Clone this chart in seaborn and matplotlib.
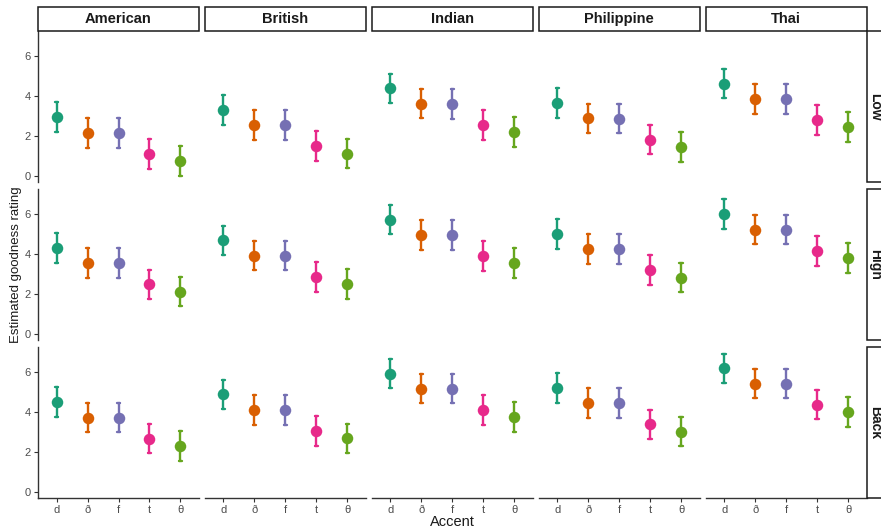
import matplotlib
matplotlib.use("Agg")
import matplotlib.pyplot as plt
from matplotlib.patches import Rectangle
import numpy as np
import pandas as pd
import seaborn as sns

accents = ["American", "British", "Indian", "Philippine", "Thai"]
conditions = ["Low", "High", "Back"]
sounds = ["d", "ð", "f", "t", "θ"]

# Estimated goodness rating (means) per condition, one list per accent (order: d, ð, f, t, θ)
low_means = {
    "American":   [2.95, 2.15, 2.15, 1.10, 0.75],
    "British":    [3.30, 2.55, 2.55, 1.50, 1.12],
    "Indian":     [4.38, 3.62, 3.60, 2.55, 2.20],
    "Philippine": [3.65, 2.88, 2.87, 1.82, 1.45],
    "Thai":       [4.62, 3.85, 3.85, 2.80, 2.45],
}
high_means = {
    "American":   [4.30, 3.55, 3.55, 2.48, 2.12],
    "British":    [4.68, 3.92, 3.92, 2.85, 2.50],
    "Indian":     [5.72, 4.95, 4.95, 3.90, 3.55],
    "Philippine": [5.00, 4.25, 4.25, 3.20, 2.82],
    "Thai":       [6.00, 5.22, 5.22, 4.15, 3.80],
}
back_means = {
    "American":   [4.50, 3.72, 3.72, 2.67, 2.30],
    "British":    [4.88, 4.10, 4.10, 3.05, 2.68],
    "Indian":     [5.92, 5.17, 5.17, 4.10, 3.75],
    "Philippine": [5.20, 4.45, 4.45, 3.38, 3.02],
    "Thai":       [6.18, 5.42, 5.42, 4.37, 4.00],
}
# half-width of the interval for each sound
half_ci = [0.73, 0.73, 0.73, 0.73, 0.73]

means_by_condition = {"Low": low_means, "High": high_means, "Back": back_means}
palette = dict(zip(sounds, sns.color_palette("Dark2", 5)))

# long table: lower / mean / upper rows -> median with 100% interval reproduces the estimate and interval
rows = []
for cond in conditions:
    for acc in accents:
        for s, m, h in zip(sounds, means_by_condition[cond][acc], half_ci):
            for v in (m - h, m, m + h):
                rows.append({"Condition": cond, "Accent": acc, "Sound": s, "Rating": v})
df = pd.DataFrame(rows)

sns.set_style("white")
plt.rcParams["font.family"] = ["Liberation Sans", "DejaVu Sans"]

W, H = 881, 531
fig = plt.figure(figsize=(W / 100, H / 100), dpi=100)

col_left0, col_step, col_w = 38, 166.9, 161
row_top0, row_step, row_h = 31, 158, 151
axis_col = "#333333"
tick_col = "#4D4D4D"

for j, cond in enumerate(conditions):
    for i, acc in enumerate(accents):
        left = col_left0 + i * col_step
        top = row_top0 + j * row_step
        ax = fig.add_axes([left / W, 1 - (top + row_h) / H, col_w / W, row_h / H])
        sub = df[(df.Condition == cond) & (df.Accent == acc)]
        sns.pointplot(data=sub, x="Sound", y="Rating", hue="Sound", order=sounds,
                      hue_order=sounds, palette=palette, estimator="median",
                      errorbar=("pi", 100), linestyle="none", markers="o",
                      markersize=8.3, capsize=0.11, err_kws={"linewidth": 1.7},
                      legend=False, ax=ax)
        for ln in ax.lines:
            ln.set_markeredgewidth(0)
        ax.set_xlim(-0.6, 4.6)
        ax.set_ylim(-0.3, 7.25)
        ax.set_xlabel("")
        ax.set_ylabel("")
        for sp in ["top", "right"]:
            ax.spines[sp].set_visible(False)
        ax.spines["left"].set_visible(i == 0)
        ax.spines["bottom"].set_visible(j == len(conditions) - 1)
        for sp in ["left", "bottom"]:
            ax.spines[sp].set_color(axis_col)
            ax.spines[sp].set_linewidth(1.0)
        ax.set_yticks([0, 2, 4, 6])
        ax.tick_params(axis="both", colors=axis_col, labelcolor=tick_col, labelsize=8,
                       length=3, width=0.8, pad=2)
        if i != 0:
            ax.tick_params(axis="y", left=False, labelleft=False)
        if j != len(conditions) - 1:
            ax.tick_params(axis="x", bottom=False, labelbottom=False)
        else:
            ax.tick_params(axis="x", bottom=True, labelbottom=True)
        if i == 0:
            ax.tick_params(axis="y", left=True)

        # top strips
        if j == 0:
            fig.add_artist(Rectangle((left / W, 1 - 31 / H), col_w / W, 24 / H,
                                     transform=fig.transFigure, facecolor="white",
                                     edgecolor="#1a1a1a", linewidth=1.1, clip_on=False))
            fig.text((left + col_w / 2) / W, 1 - 19 / H, acc, ha="center", va="center",
                     fontsize=10.5, fontweight="bold", color="#1a1a1a")
    # right strips
    top = row_top0 + j * row_step
    fig.add_artist(Rectangle((867 / W, 1 - (top + row_h) / H), 24 / W, row_h / H,
                             transform=fig.transFigure, facecolor="white",
                             edgecolor="#1a1a1a", linewidth=1.1, clip_on=False))
    fig.text(875 / W, 1 - (top + row_h / 2) / H, cond, ha="center", va="center",
             rotation=-90, fontsize=10, fontweight="bold", color="#1a1a1a")

fig.text(16 / W, 1 - 265 / H, "Estimated goodness rating", rotation=90,
         ha="center", va="center", fontsize=9.5, color="#1a1a1a")
fig.text(452 / W, 1 - 522 / H, "Accent", ha="center", va="center",
         fontsize=10.5, color="#1a1a1a")

fig.savefig("out.png", dpi=100, facecolor="white")
